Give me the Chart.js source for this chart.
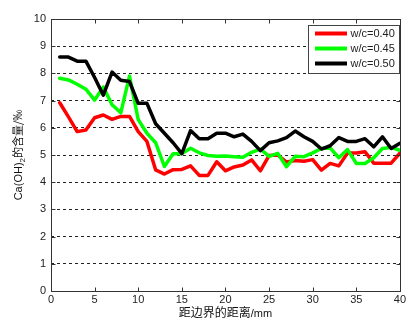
<!DOCTYPE html>
<html>
<head>
<meta charset="utf-8">
<script src="https://cdn.jsdelivr.net/npm/chart.js@4/dist/chart.umd.min.js"></script>
<style>
  html, body { margin: 0; padding: 0; background: #fff; }
  #wrap { width: 408px; height: 320px; }
</style>
</head>
<body>
<div id="wrap"><canvas id="chart" width="408" height="320"></canvas></div>
<script>
const distances = [1, 2, 3, 4, 5, 6, 7, 8, 9, 10, 11, 12, 13, 14, 15, 16, 17, 18, 19, 20,
    21, 22, 23, 24, 25, 26, 27, 28, 29, 30, 31, 32, 33, 34, 35, 36, 37, 38, 39, 40];
const seriesLabels = ['w/c=0.40', 'w/c=0.45', 'w/c=0.50'];
const seriesColors = ['#ff0000', '#00ff00', '#000000'];
const wc040 = [6.92, 6.40, 5.86, 5.92, 6.37, 6.47, 6.31, 6.42, 6.42, 5.86, 5.50, 4.45, 4.30, 4.46, 4.47, 4.60, 4.25, 4.25, 4.75, 4.42,
    4.56, 4.63, 4.82, 4.42, 4.98, 5.00, 4.74, 4.80, 4.77, 4.83, 4.44, 4.69, 4.60, 5.07, 5.07, 5.12, 4.70, 4.70, 4.70, 5.07];
const wc045 = [7.82, 7.76, 7.60, 7.42, 7.02, 7.50, 6.85, 6.55, 7.90, 6.30, 5.80, 5.45, 4.58, 5.05, 5.05, 5.25, 5.08, 4.98, 4.95, 4.96,
    4.94, 4.92, 5.10, 5.22, 4.95, 5.06, 4.57, 4.95, 4.94, 5.08, 5.24, 5.26, 4.90, 5.20, 4.69, 4.69, 4.90, 5.24, 5.28, 5.17];
const wc050 = [8.60, 8.60, 8.45, 8.45, 7.85, 7.20, 8.05, 7.75, 7.70, 6.90, 6.90, 6.15, 5.80, 5.45, 5.05, 5.90, 5.60, 5.60, 5.80, 5.80,
    5.67, 5.77, 5.50, 5.16, 5.45, 5.52, 5.64, 5.88, 5.67, 5.50, 5.22, 5.34, 5.64, 5.50, 5.50, 5.60, 5.30, 5.67, 5.24, 5.43];
const xTicks = [0, 5, 10, 15, 20, 25, 30, 35, 40];
const yTicks = [0, 1, 2, 3, 4, 5, 6, 7, 8, 9, 10];
const xTitle = '距边界的距离';
const xUnit = '/mm';
const yTitleParts = ['Ca(OH)', '2', '的含量/‰'];

const latin = '"Liberation Sans", Arial, sans-serif';
const cjk = '"Noto Sans CJK SC", sans-serif';

const toPoints = values => values.map((v, i) => ({ x: distances[i], y: v }));

// box, inward ticks, legend and axis titles drawn the MATLAB way
const matlabFrame = {
    id: 'matlabFrame',
    afterDatasetsDraw(chart) {
        const { ctx, chartArea: a, scales } = chart;
        const l = Math.round(a.left) + 0.5, r = Math.round(a.right) + 0.5;
        const t = Math.round(a.top) + 0.5, b = Math.round(a.bottom) + 0.5;
        ctx.save();
        ctx.strokeStyle = '#333';
        ctx.lineWidth = 1;
        ctx.setLineDash([]);
        ctx.strokeRect(l, t, r - l, b - t);
        ctx.beginPath();
        xTicks.forEach(v => {
            const px = Math.round(scales.x.getPixelForValue(v)) + 0.5;
            ctx.moveTo(px, b); ctx.lineTo(px, b - 4);
            ctx.moveTo(px, t); ctx.lineTo(px, t + 4);
        });
        yTicks.forEach(v => {
            const py = Math.round(scales.y.getPixelForValue(v)) + 0.5;
            ctx.moveTo(l, py); ctx.lineTo(l + 4, py);
            ctx.moveTo(r, py); ctx.lineTo(r - 4, py);
        });
        ctx.stroke();

        // legend
        const lx = 308.5, ly = 25.5, lw = 91, lh = 48;
        ctx.fillStyle = '#fff';
        ctx.fillRect(lx, ly, lw, lh);
        ctx.strokeStyle = '#444';
        ctx.strokeRect(lx, ly, lw, lh);
        const rows = [33.5, 48.5, 63.5];
        chart.data.datasets.forEach((ds, i) => {
            ctx.strokeStyle = ds.borderColor;
            ctx.lineWidth = 4;
            ctx.beginPath();
            ctx.moveTo(315, rows[i]);
            ctx.lineTo(347, rows[i]);
            ctx.stroke();
            ctx.fillStyle = '#222';
            ctx.font = '11px ' + latin;
            ctx.textBaseline = 'middle';
            ctx.textAlign = 'left';
            ctx.fillText(ds.label, 350.5, rows[i] + 0.5);
        });

        // x title
        ctx.fillStyle = '#111';
        ctx.textBaseline = 'alphabetic';
        ctx.font = '12px ' + cjk;
        const w1 = ctx.measureText(xTitle).width;
        ctx.font = '11px ' + latin;
        const w2 = ctx.measureText(xUnit).width;
        const cx = (a.left + a.right) / 2;
        let sx = cx - (w1 + w2) / 2;
        ctx.font = '12px ' + cjk;
        ctx.fillText(xTitle, sx, 317);
        ctx.font = '11px ' + latin;
        ctx.fillText(xUnit, sx + w1, 317);

        // y title, rotated, with subscript 2
        ctx.translate(22, (a.top + a.bottom) / 2);
        ctx.rotate(-Math.PI / 2);
        const fonts = ['11px ' + latin, '8px ' + latin, '11px ' + cjk];
        const widths = yTitleParts.map((p, i) => { ctx.font = fonts[i]; return ctx.measureText(p).width; });
        let px = -widths.reduce((s, w) => s + w, 0) / 2;
        yTitleParts.forEach((p, i) => {
            ctx.font = fonts[i];
            ctx.fillText(p, px, i === 1 ? 3 : 0);
            px += widths[i];
        });
        ctx.restore();
    }
};

new Chart(document.getElementById('chart'), {
    type: 'line',
    data: {
        datasets: [
            { label: seriesLabels[0], data: toPoints(wc040), borderColor: seriesColors[0], order: 2 },
            { label: seriesLabels[1], data: toPoints(wc045), borderColor: seriesColors[1], order: 1 },
            { label: seriesLabels[2], data: toPoints(wc050), borderColor: seriesColors[2], order: 0 }
        ]
    },
    options: {
        responsive: false,
        devicePixelRatio: 1,
        animation: false,
        layout: { padding: { left: 0, top: 19, right: 5, bottom: 0 } },
        elements: {
            line: { borderWidth: 3.5, tension: 0, borderJoinStyle: 'round', borderCapStyle: 'round', fill: false },
            point: { radius: 0, hoverRadius: 0 }
        },
        plugins: {
            legend: { display: false },
            tooltip: { enabled: false }
        },
        scales: {
            x: {
                type: 'linear',
                min: 0,
                max: 40,
                afterBuildTicks(scale) { scale.ticks = xTicks.map(v => ({ value: v })); },
                afterFit(scale) { scale.height = 29; },
                ticks: {
                    color: '#222',
                    padding: 2,
                    maxRotation: 0,
                    font: { family: latin, size: 11 }
                },
                grid: { display: false, drawTicks: false },
                border: { display: false }
            },
            y: {
                min: 0,
                max: 10,
                afterBuildTicks(scale) { scale.ticks = yTicks.map(v => ({ value: v })); },
                afterFit(scale) { scale.width = 51; },
                ticks: {
                    color: '#222',
                    padding: 5,
                    font: { family: latin, size: 11 }
                },
                grid: {
                    color: '#222',
                    lineWidth: 1,
                    drawTicks: false
                },
                border: { display: false, dash: [3, 3] }
            }
        }
    },
    plugins: [matlabFrame]
});
</script>
</body>
</html>
